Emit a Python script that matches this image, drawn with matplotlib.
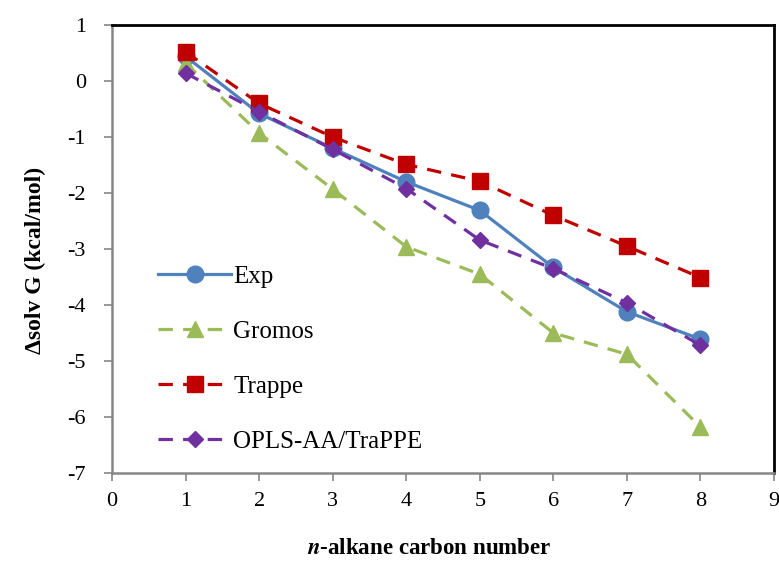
import numpy as np
import matplotlib
matplotlib.use("Agg")
from matplotlib import pyplot as plt

# carbon number of the n-alkane
carbon = [1, 2, 3, 4, 5, 6, 7, 8]

# solvation free energies (kcal/mol)
exp_vals = [0.44, -0.58, -1.20, -1.80, -2.31, -3.33, -4.12, -4.61]
gromos_vals = [0.32, -0.93, -1.93, -2.96, -3.45, -4.50, -4.88, -6.18]
trappe_vals = [0.52, -0.40, -1.00, -1.49, -1.79, -2.40, -2.95, -3.51]
opls_vals = [0.14, -0.55, -1.22, -1.92, -2.84, -3.35, -3.96, -4.72]

x_ticks = list(range(0, 10))
y_ticks = list(range(-7, 2))

plt.rcParams['font.family'] = ['Liberation Serif', 'DejaVu Serif']
plt.rcParams['mathtext.fontset'] = 'stix'
plt.rcParams['axes.unicode_minus'] = False

fig = plt.figure(figsize=(7.79, 5.66), dpi=100)
ax = fig.add_axes([0.1438, 0.1643, 0.8498, 0.7915])

dash = (0, (4.5, 3.2))
ax.plot(carbon, exp_vals, color='#4F81BD', linewidth=2.3, marker='o',
        markersize=12, label='Exp')
ax.plot(carbon, gromos_vals, color='#9BBB59', linewidth=2.3, linestyle=dash,
        marker='^', markersize=12, label='Gromos')
ax.plot(carbon, trappe_vals, color='#C00000', linewidth=2.3, linestyle=dash,
        marker='s', markersize=12, label='Trappe')
ax.plot(carbon, opls_vals, color='#7030A0', linewidth=2.3, linestyle=dash,
        marker='D', markersize=8.5, label='OPLS-AA/TraPPE')

ax.set_xlim(0, 9)
ax.set_ylim(-7, 1)
ax.set_xticks(x_ticks)
ax.set_yticks(y_ticks)

for side in ['left', 'bottom']:
    ax.spines[side].set_color('#868686')
    ax.spines[side].set_linewidth(1.8)
for side in ['top', 'right']:
    ax.spines[side].set_color('black')
    ax.spines[side].set_linewidth(2)

ax.tick_params(axis='both', direction='out', length=5.8, width=1.2,
               color='#868686', labelsize=16)
ax.tick_params(axis='y', pad=13)
ax.tick_params(axis='x', pad=8)

ax.set_xlabel(r'$\mathbfit{n}$-alkane carbon number', fontsize=16.5,
              fontweight='bold')
ax.set_ylabel('\u0394solv G (kcal/mol)', fontsize=17, fontweight='bold')
ax.xaxis.set_label_coords(0.479, -0.145)
ax.yaxis.set_label_coords(-0.1, 0.475)

ax.legend(loc='center left', bbox_to_anchor=(0.07, 0.255), frameon=False,
          fontsize=18, handlelength=2.9, handletextpad=0.1,
          labelspacing=1.3, borderpad=0, borderaxespad=0)

fig.savefig('out.png', dpi=100)
